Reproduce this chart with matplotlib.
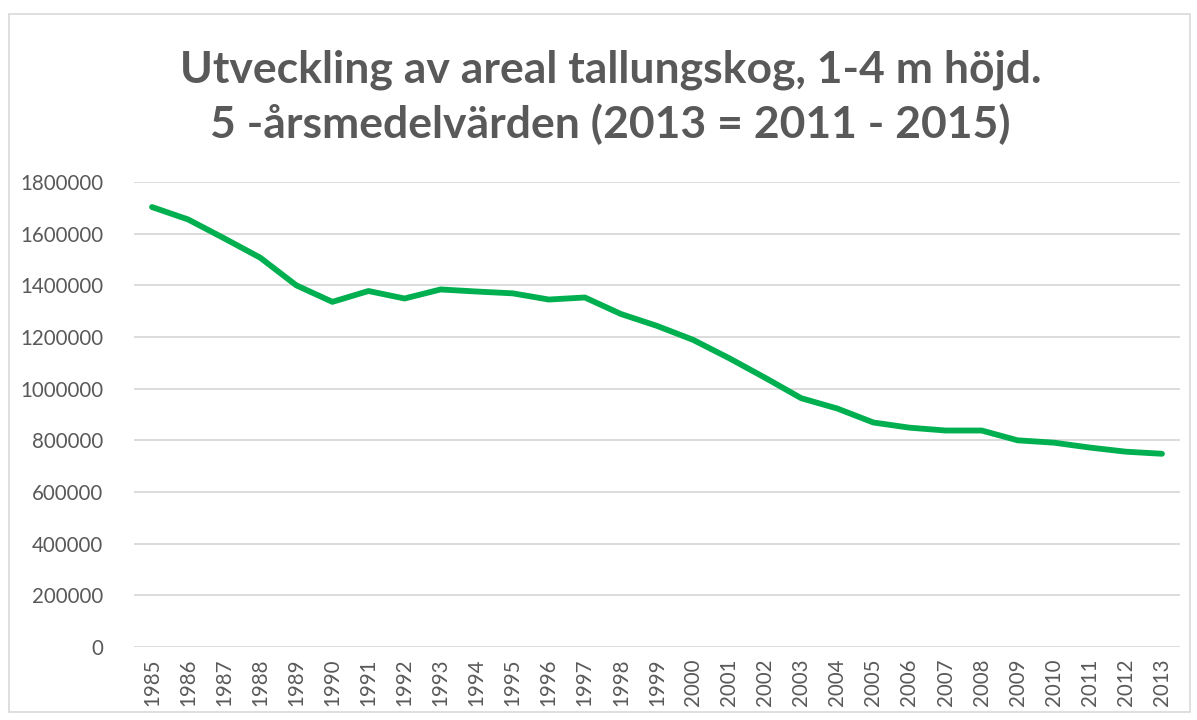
import matplotlib
matplotlib.use("Agg")
import matplotlib.pyplot as plt
from matplotlib.patches import Rectangle

# 5-year moving averages, area of pine young forest 1-4 m height (ha)
years = [str(y) for y in range(1985, 2014)]
area = [1703000, 1655000, 1582000, 1507000, 1400000, 1336000, 1378000,
        1349000, 1384000, 1376000, 1369000, 1345000, 1353000, 1289000,
        1243000, 1189000, 1118000, 1042000, 963000, 923000, 869000,
        849000, 838000, 838000, 800000, 791000, 772000, 756000, 748000]
yticks = list(range(0, 1800001, 200000))

title = "Utveckling av areal tallungskog, 1-4 m höjd.\n5 -årsmedelvärden (2013 = 2011 - 2015)"

plt.rcParams['font.family'] = ['Lato', 'DejaVu Sans']
grey = '#595959'

fig = plt.figure(figsize=(11.97, 7.2), dpi=100)
W, H = 1197, 720
ax = fig.add_axes([134 / W, 1 - 647 / H, (1180 - 134) / W, (647 - 182) / H])

x = range(len(years))
ax.plot(x, area, color='#00B050', lw=4.2, solid_capstyle='round',
        solid_joinstyle='round', zorder=3)

ax.set_xlim(-0.5, len(years) - 0.5)
ax.set_ylim(0, 1800000)
ax.set_yticks(yticks)
ax.set_yticklabels([str(v) for v in yticks])
ax.set_xticks(list(x))
ax.set_xticklabels(years, rotation=90)
ax.tick_params(length=0, labelsize=14.8, labelcolor=grey)
ax.tick_params(axis='y', pad=22)
ax.tick_params(axis='x', pad=8)
ax.grid(axis='y', color='#D9D9D9', lw=1.3)
ax.set_axisbelow(True)
for s in ax.spines.values():
    s.set_visible(False)

fig.text(0.51, 1 - 97 / H, title, ha='center', va='center', fontsize=32,
         fontweight='bold', color=grey, linespacing=1.38)

# chart border
fig.patches.append(Rectangle((9 / W, 1 - 712 / H), (1190 - 9) / W, (712 - 14) / H,
                             transform=fig.transFigure, fill=False,
                             edgecolor='#D9D9D9', lw=1.2))

fig.savefig("out.png", dpi=100)
